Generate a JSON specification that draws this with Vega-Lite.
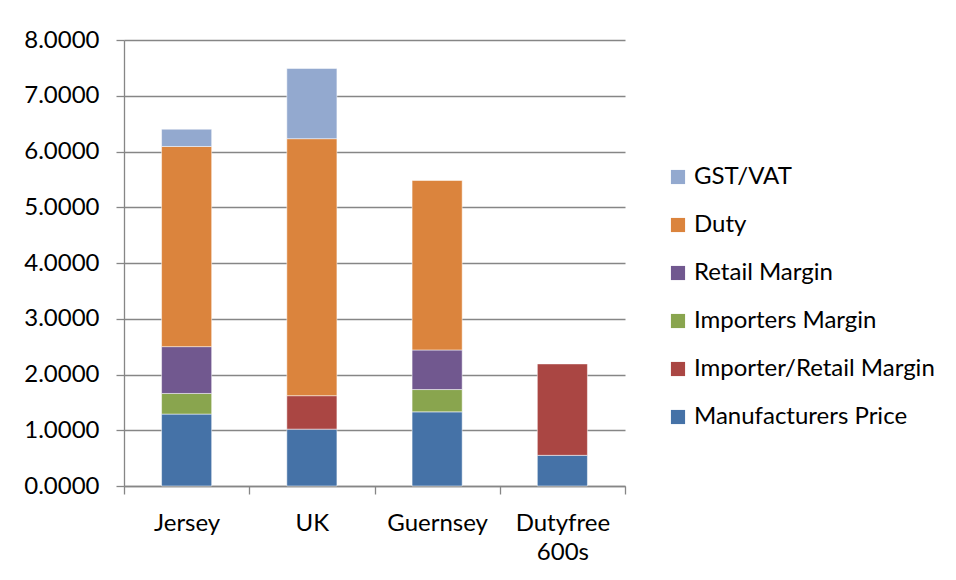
{
  "$schema": "https://vega.github.io/schema/vega-lite/v6.json",
  "autosize": {"type": "none"},
  "padding": {"left": 124, "top": 40, "right": 331, "bottom": 94},
  "width": 501,
  "height": 446,
  "background": "white",
  "config": {
    "font": "Lato",
    "view": {"stroke": null},
    "axis": {"labelFont": "Lato", "labelColor": "#000000", "labelFontSize": 24, "labelOverlap": false, "domainColor": "#868686", "tickColor": "#868686", "gridColor": "#868686", "gridWidth": 1.3, "domainWidth": 1.3, "tickWidth": 1.3, "tickSize": 8}
  },
  "data": {
    "values": [
      {"country": "Jersey", "component": "Manufacturers Price", "ord": 1, "value": 1.29},
      {"country": "Jersey", "component": "Importers Margin", "ord": 3, "value": 0.37},
      {"country": "Jersey", "component": "Retail Margin", "ord": 4, "value": 0.84},
      {"country": "Jersey", "component": "Duty", "ord": 5, "value": 3.59},
      {"country": "Jersey", "component": "GST/VAT", "ord": 6, "value": 0.31},
      {"country": "UK", "component": "Manufacturers Price", "ord": 1, "value": 1.02},
      {"country": "UK", "component": "Importer/Retail Margin", "ord": 2, "value": 0.60},
      {"country": "UK", "component": "Duty", "ord": 5, "value": 4.61},
      {"country": "UK", "component": "GST/VAT", "ord": 6, "value": 1.26},
      {"country": "Guernsey", "component": "Manufacturers Price", "ord": 1, "value": 1.33},
      {"country": "Guernsey", "component": "Importers Margin", "ord": 3, "value": 0.40},
      {"country": "Guernsey", "component": "Retail Margin", "ord": 4, "value": 0.71},
      {"country": "Guernsey", "component": "Duty", "ord": 5, "value": 3.04},
      {"country": "Dutyfree 600s", "component": "Manufacturers Price", "ord": 1, "value": 0.55},
      {"country": "Dutyfree 600s", "component": "Importer/Retail Margin", "ord": 2, "value": 1.64}
    ]
  },
  "mark": {"type": "bar", "width": {"band": 0.4}, "stroke": "#ffffff", "strokeOpacity": 0.5, "strokeWidth": 1},
  "encoding": {
    "x": {
      "field": "country", "type": "nominal", "sort": ["Jersey", "UK", "Guernsey", "Dutyfree 600s"],
      "scale": {"paddingInner": 0, "paddingOuter": 0},
      "axis": {"title": null, "labelAngle": 0, "tickBand": "extent", "labelPadding": 17, "labelLineHeight": 29,
        "labelExpr": "datum.label == 'Dutyfree 600s' ? ['Dutyfree', '600s'] : datum.label"}
    },
    "y": {
      "field": "value", "type": "quantitative", "stack": "zero",
      "scale": {"domain": [0, 8], "nice": false},
      "axis": {"title": null, "values": [0,1,2,3,4,5,6,7,8], "format": ".4f", "labelPadding": 17}
    },
    "color": {
      "field": "component", "type": "nominal",
      "scale": {
        "domain": ["GST/VAT", "Duty", "Retail Margin", "Importers Margin", "Importer/Retail Margin", "Manufacturers Price"],
        "range": ["#93A9CF", "#DB843D", "#71588F", "#89A54E", "#AA4643", "#4572A7"]
      },
      "legend": {"title": null, "orient": "none", "legendX": 542, "legendY": 125, "symbolType": "square", "symbolSize": 200, "symbolStrokeWidth": 0, "labelFontSize": 24, "labelFont": "Lato", "labelColor": "#000000", "rowPadding": 24, "labelOffset": 4, "labelLimit": 400}
    },
    "order": {"field": "ord", "type": "quantitative", "sort": "ascending"}
  }
}
